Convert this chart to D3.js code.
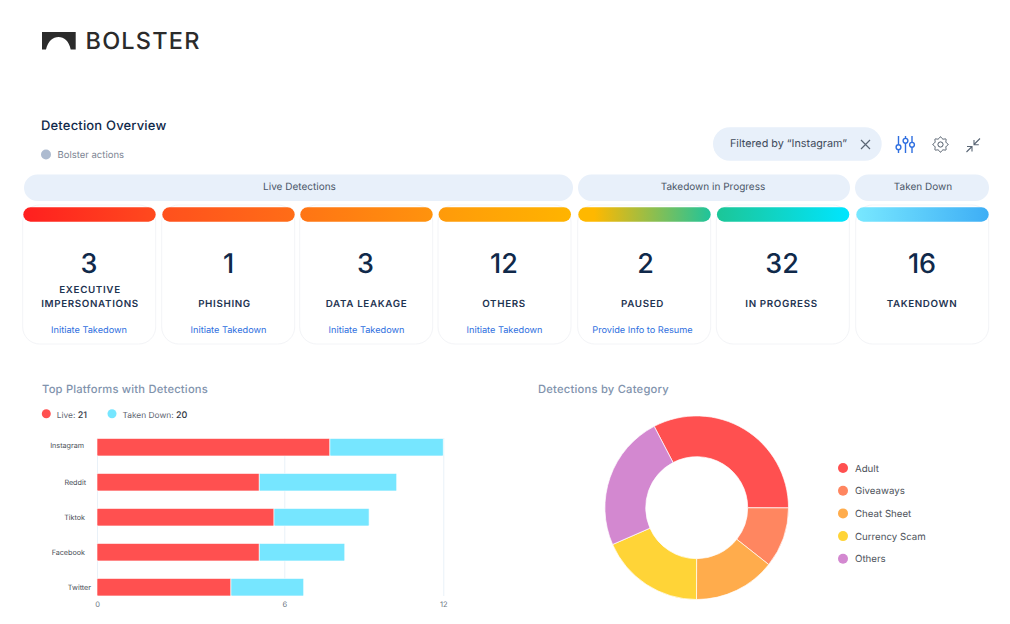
<!DOCTYPE html>
<html>
<head>
<meta charset="utf-8">
<script src="https://cdn.jsdelivr.net/npm/d3@7/dist/d3.min.js"></script>
<style>
  html, body { margin: 0; padding: 0; background: #fff; }
  svg { display: block; }
  text { font-family: Inter, "Noto Sans", sans-serif; text-rendering: geometricPrecision; }
</style>
</head>
<body>
<svg id="chart" width="1010" height="624"></svg>
<script>
// card data
const cardValues = [3, 1, 3, 12, 2, 32, 16];
const cardLabels = [["EXECUTIVE", "IMPERSONATIONS"], ["PHISHING"], ["DATA LEAKAGE"], ["OTHERS"], ["PAUSED"], ["IN PROGRESS"], ["TAKENDOWN"]];
const cardLinks = ["Initiate Takedown", "Initiate Takedown", "Initiate Takedown", "Initiate Takedown", "Provide Info to Resume", "", ""];
const cardColors = [["#ff1f1f", "#ff4a1e"], ["#ff501d", "#ff6d17"], ["#ff7414", "#ff930d"], ["#ff9a0a", "#ffb400"], ["#ffb800", "#1fc49b"], ["#1cc697", "#00e5ff"], ["#78e8ff", "#3eaef5"]];
const groupNames = ["Live Detections", "Takedown in Progress", "Taken Down"];

// bar chart data
const platforms = ["Instagram", "Reddit", "Tiktok", "Facebook", "Twitter"];
const liveValues = [7.72, 5.2, 5.67, 5.2, 4.29];
const takenValues = [4.28, 5.04, 3.53, 3.08, 2.44];
const barTicks = [0, 6, 12];
const barLegend = [["Live: ", "21"], ["Taken Down: ", "20"]];

// donut data
const categories = ["Adult", "Giveaways", "Cheat Sheet", "Currency Scam", "Others"];
const categoryValues = [32.7, 10.6, 14.4, 18.4, 23.9];
const categoryColors = ["#ff5050", "#ff8660", "#ffac4c", "#ffd437", "#d388d0"];

const navy = "#10294a", pale = "#e8f0fa", blue = "#2f6fe0";

const svg = d3.select("#chart");
const defs = svg.append("defs");

function renderHeader(){
  // logo mark: dark block with an arch cut out
  svg.append("path")
    .attr("d", "M42 32H75.700V49.500H70.700C69 41 64 37 58.500 37C53 37 48 41 46 49.500H42Z")
    .attr("fill", "#2b2b2b");
  svg.append("text").attr("x", 85.5).attr("y", 49)
    .attr("font-size", 23.5).attr("font-weight", 500).attr("letter-spacing", 1.2)
    .attr("fill", "#2b2b2b").text("BOLSTER");

  svg.append("text").attr("x", 41).attr("y", 129.5)
    .attr("font-size", 13).attr("font-weight", 500).attr("letter-spacing", 0.17).attr("fill", navy).text("Detection Overview");
  svg.append("circle").attr("cx", 46).attr("cy", 154.5).attr("r", 5).attr("fill", "#adbbd0");
  svg.append("text").attr("x", 57.5).attr("y", 158)
    .attr("font-size", 9.5).attr("fill", "#7c8593").text("Bolster actions");

  // filter pill
  svg.append("rect").attr("x", 713).attr("y", 127.3).attr("width", 168.7).attr("height", 33.4)
    .attr("rx", 16.7).attr("fill", pale);
  svg.append("text").attr("x", 730).attr("y", 147)
    .attr("font-size", 10.8).attr("fill", "#3f4b5c").text("Filtered by “Instagram”");
  svg.append("path").attr("d", "M861 140L870 149M870 140L861 149")
    .attr("stroke", "#5a6675").attr("stroke-width", 1.2).attr("fill", "none");

  renderIcons();
}

function renderIcons(){
  // sliders
  let sliders = svg.append("g").attr("stroke", blue).attr("stroke-width", 1.4).attr("fill", "none");
  sliders.append("path").attr("d", "M898.5 136V144.600M898.5 149.800V153M905.5 136V138.200M905.5 143.400V153M912 136V142.200M912 147.400V153");
  sliders.append("circle").attr("cx", 898.5).attr("cy", 147.2).attr("r", 2.4);
  sliders.append("circle").attr("cx", 905.5).attr("cy", 140.8).attr("r", 2.4);
  sliders.append("circle").attr("cx", 912).attr("cy", 144.8).attr("r", 2.4);

  // gear
  let gear = svg.append("g").attr("transform", "translate(940.5,144.5)")
    .attr("stroke", "#4f5a68").attr("stroke-width", 1).attr("fill", "none");
  gear.append("circle").attr("r", 2.6);
  let points = d3.range(16).map(function(i){
    let r = (i % 2 === 0) ? 7.7 : 5.9;
    let a = i * Math.PI / 8;
    return [r * Math.sin(a), -r * Math.cos(a)];
  });
  gear.append("path").attr("d", d3.line().curve(d3.curveCatmullRomClosed.alpha(0.5))(points));

  // collapse arrows
  svg.append("path").attr("d", "M980 138.500L974 144.500M974 140V144.800H978.800M966.500 152L972 146.500M967 146.500H972V151.500")
    .attr("stroke", "#5a6675").attr("stroke-width", 1.1).attr("fill", "none");
}

function renderGroups(){
  let spans = [[24, 573], [578, 850], [855, 989]];
  let textX = [299.500, 713, 923];
  let group = svg.selectAll(".group_node").data(groupNames).enter().append("g").attr("class", "group_node");
  group.append("rect")
    .attr("x", function(d, i){ return spans[i][0]; })
    .attr("y", 174.500)
    .attr("width", function(d, i){ return spans[i][1] - spans[i][0]; })
    .attr("height", 26.5).attr("rx", 13.25).attr("fill", pale);
  group.append("text")
    .attr("x", function(d, i){ return textX[i]; })
    .attr("y", function(d, i){ return i === 1 ? 190 : 189.500; })
    .attr("text-anchor", "middle").attr("font-size", 10).attr("fill", "#4a5668")
    .text(function(d){ return d; });
}

function renderCards(){
  let lefts = [22.7, 161.7, 299.7, 438, 577.7, 716.3, 855.7];
  let cardWidth = 133;
  let textCentre = [89, 228.500, 365.500, 504, 645.500, 782, 922];
  let labelCentre = [90, 224.500, 366.500, 504, 642.500, 781.500, 922];
  let linkCentre = [89, 228.500, 366.500, 504.500, 642.500, 0, 0];

  let card = svg.selectAll(".card_node").data(cardValues).enter().append("g").attr("class", "card_node");

  card.append("rect")
    .attr("x", function(d, i){ return lefts[i]; })
    .attr("y", 205).attr("width", cardWidth).attr("height", 139)
    .attr("rx", 17).attr("fill", "#fff").attr("stroke", "#f3f4f7").attr("stroke-width", 1);

  cardColors.forEach(function(pair, i){
    let grad = defs.append("linearGradient").attr("id", "cardGrad" + i);
    grad.append("stop").attr("offset", i === 4 ? "12%" : "0%").attr("stop-color", pair[0]);
    grad.append("stop").attr("offset", "100%").attr("stop-color", pair[1]);
  });

  card.append("rect")
    .attr("x", function(d, i){ return lefts[i] + 0.6; })
    .attr("y", 207.300).attr("width", cardWidth - 0.6).attr("height", 14.4).attr("rx", 7.2)
    .attr("fill", function(d, i){ return "url(#cardGrad" + i + ")"; });

  card.append("text")
    .attr("x", function(d, i){ return textCentre[i]; })
    .attr("y", 273).attr("text-anchor", "middle")
    .attr("font-size", 27).attr("font-weight", 500).attr("fill", navy)
    .text(function(d){ return d; });

  card.each(function(d, i){
    let lines = cardLabels[i];
    let firstY = lines.length > 1 ? 293.300 : 307;
    d3.select(this).selectAll(".card_label").data(lines).enter().append("text")
      .attr("class", "card_label")
      .attr("x", labelCentre[i])
      .attr("y", function(line, j){ return firstY + j * 13.8; })
      .attr("text-anchor", "middle")
      .attr("font-size", 9.8).attr("font-weight", 600).attr("letter-spacing", 0.65).attr("fill", "#1f3552")
      .text(function(line){ return line; });
  });

  card.append("text")
    .attr("x", function(d, i){ return linkCentre[i]; })
    .attr("y", 333).attr("text-anchor", "middle")
    .attr("font-size", 9.2).attr("fill", blue)
    .text(function(d, i){ return cardLinks[i]; });
}

function renderBars(){
  svg.append("text").attr("x", 42).attr("y", 393)
    .attr("font-size", 11.2).attr("font-weight", 500).attr("letter-spacing", 0.2).attr("fill", "#8193ad")
    .text("Top Platforms with Detections");

  // legend
  let legendX = [46.300, 112];
  let legend = svg.selectAll(".bar_legend").data(barLegend).enter().append("g").attr("class", "bar_legend");
  legend.append("circle")
    .attr("cx", function(d, i){ return legendX[i]; }).attr("cy", 413.7).attr("r", 4.5)
    .attr("fill", function(d, i){ return i === 0 ? categoryColors[0] : "#76e6ff"; });
  let legendText = legend.append("text")
    .attr("x", function(d, i){ return legendX[i] + 10.4; }).attr("y", 418)
    .attr("font-size", 8.4).attr("fill", "#5c6470");
  legendText.append("tspan").text(function(d){ return d[0]; });
  legendText.append("tspan").attr("font-size", 9).attr("font-weight", 500).attr("fill", "#30363f").text(function(d){ return d[1]; });

  // the axis in the picture is not even: 6 sits past the middle of 0..12
  let x = d3.scaleLinear().domain(barTicks).range([97, 284.3, 443.3]);
  let y = d3.scaleBand().domain(platforms).range([429.700, 604.700]).paddingInner(0.5).paddingOuter(0.25);

  // grid and tick labels
  let xAxis = svg.append("g").attr("transform", "translate(0,596)")
    .call(d3.axisBottom(x).tickValues(barTicks).tickSize(-158).tickSizeOuter(0));
  xAxis.select(".domain").remove();
  xAxis.selectAll("line").attr("stroke", "#e9f1f8");
  xAxis.selectAll("text").attr("font-family", "Inter").attr("font-size", 7.5).attr("fill", "#6d7683").attr("y", 5.5);

  // platform labels do not share a right edge or sit quite centred on the bars
  let labelRight = [84, 86, 85, 85, 91];
  let labelMiddle = [445.5, 482.3, 518, 553, 587.3];
  let yAxis = svg.append("g").call(d3.axisLeft(y).tickSize(0));
  yAxis.select(".domain").remove();
  yAxis.selectAll(".tick").attr("transform", null);
  yAxis.selectAll("text").attr("font-family", "Inter").attr("font-size", 7.2).attr("fill", "#4a4f57")
    .attr("x", function(d, i){ return labelRight[i]; })
    .attr("y", function(d, i){ return labelMiddle[i]; });

  // stacked bars
  let rows = platforms.map(function(name, i){ return {name: name, live: liveValues[i], taken: takenValues[i]}; });
  let stack = d3.stack().keys(["live", "taken"])(rows);
  let colors = [categoryColors[0], "#76e6ff"];

  svg.selectAll(".bar_layer").data(stack).enter().append("g")
    .attr("class", "bar_layer")
    .attr("fill", function(d, i){ return colors[i]; })
    .selectAll("rect").data(function(d){ return d; }).enter().append("rect")
    .attr("x", function(d){ return x(d[0]); })
    .attr("y", function(d){ return y(d.data.name); })
    .attr("width", function(d){ return x(d[1]) - x(d[0]); })
    .attr("height", y.bandwidth())
    .attr("rx", 1).attr("stroke", "#fff").attr("stroke-width", 0.6);
}

function renderDonut(){
  svg.append("text").attr("x", 538).attr("y", 393)
    .attr("font-size", 11.2).attr("font-weight", 500).attr("letter-spacing", 0.22).attr("fill", "#8193ad")
    .text("Detections by Category");

  let start = -27.6 * Math.PI / 180;
  let pie = d3.pie().sort(null).startAngle(start).endAngle(start + 2 * Math.PI);
  let arc = d3.arc().innerRadius(51).outerRadius(91.8);

  svg.append("g").attr("transform", "translate(696.7,507.7)")
    .selectAll("path").data(pie(categoryValues)).enter().append("path")
    .attr("d", arc)
    .attr("fill", function(d, i){ return categoryColors[i]; })
    .attr("stroke", "#fff").attr("stroke-width", 0.7);

  let legend = svg.selectAll(".donut_legend").data(categories).enter().append("g").attr("class", "donut_legend");
  legend.append("circle")
    .attr("cx", 843).attr("cy", function(d, i){ return 468 + i * 22.7; }).attr("r", 5)
    .attr("fill", function(d, i){ return categoryColors[i]; });
  legend.append("text")
    .attr("x", 855).attr("y", function(d, i){ return 471.500 + i * 22.7; })
    .attr("font-size", 9.7).attr("fill", "#4e535b")
    .text(function(d){ return d; });
}

renderHeader();
renderGroups();
renderCards();
renderBars();
renderDonut();
</script>
</body>
</html>
